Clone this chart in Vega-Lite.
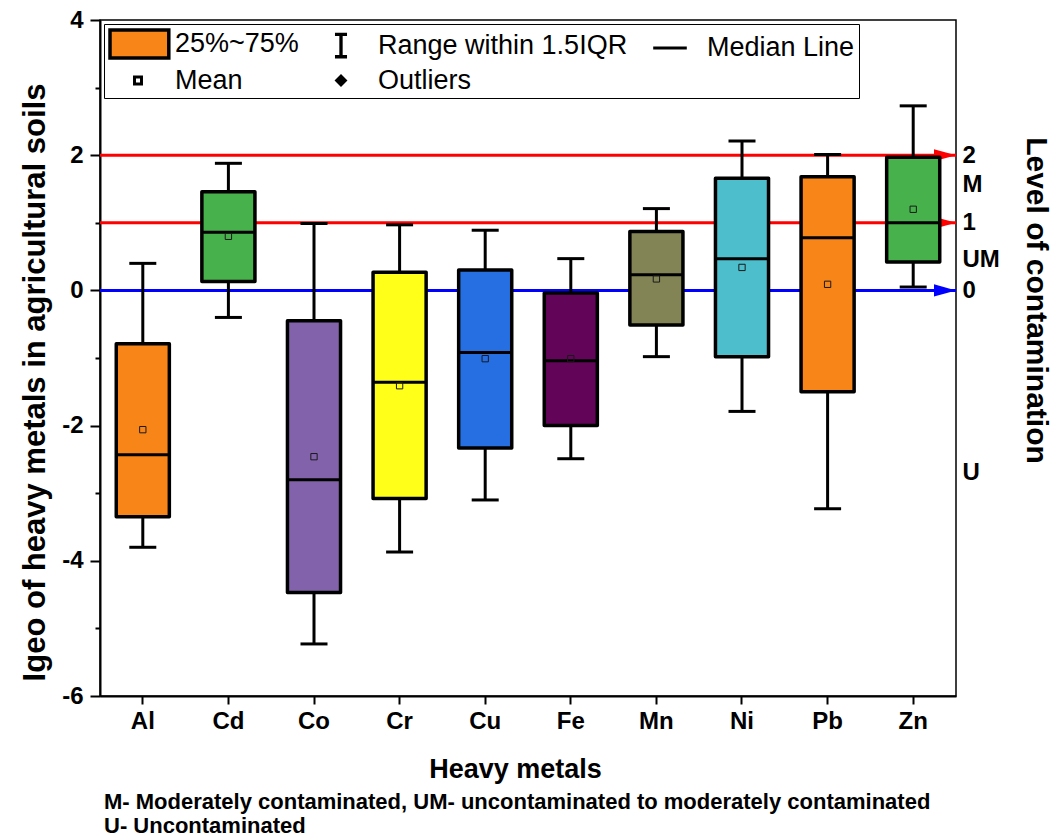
{
  "$schema": "https://vega.github.io/schema/vega-lite/v6.json",
  "width": 856,
  "height": 676,
  "autosize": {"type": "none"},
  "padding": {"left": 100, "top": 20, "right": 98, "bottom": 141},
  "background": "white",
  "datasets": {
    "boxes": [
      {"metal": "Al", "lower": -3.80, "q1": -3.35, "median": -2.43, "q3": -0.79, "upper": 0.40, "mean": -2.06},
      {"metal": "Cd", "lower": -0.40, "q1": 0.13, "median": 0.86, "q3": 1.46, "upper": 1.88, "mean": 0.80},
      {"metal": "Co", "lower": -5.23, "q1": -4.47, "median": -2.80, "q3": -0.45, "upper": 0.99, "mean": -2.46},
      {"metal": "Cr", "lower": -3.87, "q1": -3.08, "median": -1.36, "q3": 0.27, "upper": 0.97, "mean": -1.41},
      {"metal": "Cu", "lower": -3.10, "q1": -2.33, "median": -0.92, "q3": 0.30, "upper": 0.89, "mean": -1.01},
      {"metal": "Fe", "lower": -2.49, "q1": -2.00, "median": -1.04, "q3": -0.04, "upper": 0.47, "mean": -1.01},
      {"metal": "Mn", "lower": -0.98, "q1": -0.51, "median": 0.23, "q3": 0.87, "upper": 1.21, "mean": 0.17},
      {"metal": "Ni", "lower": -1.79, "q1": -0.98, "median": 0.47, "q3": 1.66, "upper": 2.21, "mean": 0.34},
      {"metal": "Pb", "lower": -3.23, "q1": -1.50, "median": 0.78, "q3": 1.68, "upper": 2.01, "mean": 0.09},
      {"metal": "Zn", "lower": 0.05, "q1": 0.42, "median": 1.00, "q3": 1.97, "upper": 2.73, "mean": 1.20}
    ],
    "levels": [
      {"level": 2, "kind": "threshold"},
      {"level": 1, "kind": "threshold"},
      {"level": 0, "kind": "baseline"}
    ],
    "legendItems": [
      {"item": "25%~75%"},
      {"item": "Range within 1.5IQR"},
      {"item": "Median Line"},
      {"item": "Mean"},
      {"item": "Outliers"}
    ]
  },
  "encoding": {
    "x": {
      "field": "metal",
      "type": "nominal",
      "sort": ["Al", "Cd", "Co", "Cr", "Cu", "Fe", "Mn", "Ni", "Pb", "Zn"],
      "scale": {"domain": ["Al", "Cd", "Co", "Cr", "Cu", "Fe", "Mn", "Ni", "Pb", "Zn"], "paddingInner": 0, "paddingOuter": 0},
      "axis": {
        "title": "Heavy metals",
        "bandPosition": 0.5,
        "labelAngle": 0,
        "labelFont": "Liberation Sans, Arial",
        "labelFontWeight": "bold",
        "labelFontSize": 24,
        "labelColor": "black",
        "labelPadding": 5,
        "tickColor": "black",
        "tickWidth": 2,
        "tickSize": 8,
        "domainColor": "black",
        "domainWidth": 2,
        "titleFont": "Liberation Sans, Arial",
        "titleFontWeight": "bold",
        "titleFontSize": 27,
        "titleColor": "black",
        "titlePadding": 23,
        "titleX": 415
      }
    }
  },
  "layer": [
    {
      "data": {"name": "levels"},
      "mark": {"type": "rule", "strokeWidth": 3},
      "encoding": {
        "x": null,
        "y": {
          "field": "level",
          "type": "quantitative",
          "scale": {"domain": [-6, 4], "nice": false, "zero": false},
          "axis": {
            "orient": "right",
            "title": "Level of contamination",
            "values": [2, 1.56, 1, 0.45, 0, -2.69],
            "labelExpr": "datum.value == 2 ? '2' : datum.value == 1.56 ? 'M' : datum.value == 1 ? '1' : datum.value == 0.45 ? 'UM' : datum.value == 0 ? '0' : 'U'",
            "labelOverlap": false,
            "ticks": false,
            "domain": false,
            "grid": false,
            "labelAlign": "left",
            "labelBaseline": "middle",
            "labelPadding": 6,
            "labelFont": "Liberation Sans, Arial",
            "labelFontWeight": "bold",
            "labelFontSize": 24,
            "labelColor": "black",
            "titleFont": "Liberation Sans, Arial",
            "titleFontWeight": "bold",
            "titleFontSize": 30,
            "titleColor": "black",
            "titlePadding": 21,
            "titleY": 280
          }
        },
        "color": {
          "field": "kind",
          "type": "nominal",
          "scale": {"domain": ["threshold", "baseline"], "range": ["#FF0000", "#0000FF"]},
          "legend": null
        }
      }
    },
    {
      "data": {"name": "levels"},
      "mark": {"type": "point", "filled": true, "size": 484, "shape": "M-2,-0.55L0,0L-2,0.55Z", "opacity": 1},
      "encoding": {
        "x": {"value": "width"},
        "y": {"field": "level", "type": "quantitative", "axis": null},
        "color": {
          "field": "kind",
          "type": "nominal",
          "scale": {"domain": ["threshold", "baseline"], "range": ["#FF0000", "#0000FF"]},
          "legend": null
        }
      }
    },
    {
      "data": {"name": "boxes"},
      "mark": {"type": "rule", "strokeWidth": 3, "color": "black"},
      "encoding": {
        "y": {
          "field": "lower",
          "type": "quantitative",
          "axis": {
            "orient": "left",
            "title": "Igeo of heavy metals in agricultural soils",
            "values": [-6, -5, -4, -3, -2, -1, 0, 1, 2, 3, 4],
            "labelExpr": "datum.value % 2 == 0 ? '' + datum.value : ''",
            "grid": false,
            "tickColor": "black",
            "tickWidth": 2,
            "tickSize": {"condition": {"test": "datum.value % 2 == 0", "value": 10}, "value": 5},
            "domainColor": "black",
            "domainWidth": 2,
            "labelFont": "Liberation Sans, Arial",
            "labelFontWeight": "bold",
            "labelFontSize": 24,
            "labelColor": "black",
            "labelPadding": 7,
            "labelOverlap": false,
            "titleFont": "Liberation Sans, Arial",
            "titleFontWeight": "bold",
            "titleFontSize": 31,
            "titleColor": "black",
            "titlePadding": 10,
            "titleY": 362
          }
        },
        "y2": {"field": "upper"}
      }
    },
    {
      "data": {"name": "boxes"},
      "mark": {"type": "tick", "size": 27, "thickness": 3, "color": "black", "opacity": 1},
      "encoding": {"y": {"field": "upper", "type": "quantitative", "axis": null}}
    },
    {
      "data": {"name": "boxes"},
      "mark": {"type": "tick", "size": 27, "thickness": 3, "color": "black", "opacity": 1},
      "encoding": {"y": {"field": "lower", "type": "quantitative", "axis": null}}
    },
    {
      "data": {"name": "boxes"},
      "mark": {"type": "bar", "width": {"band": 0.62}, "stroke": "black", "strokeWidth": 3.5, "strokeJoin": "round"},
      "encoding": {
        "y": {"field": "q1", "type": "quantitative", "axis": null},
        "y2": {"field": "q3"},
        "color": {
          "field": "metal",
          "type": "nominal",
          "scale": {
            "domain": ["Al", "Cd", "Co", "Cr", "Cu", "Fe", "Mn", "Ni", "Pb", "Zn"],
            "range": ["#F88517", "#47B14B", "#8263AB", "#FFFF1A", "#256FE3", "#620457", "#828455", "#4DBECC", "#F88517", "#47B14B"]
          },
          "legend": null
        }
      }
    },
    {
      "data": {"name": "boxes"},
      "mark": {"type": "tick", "size": 53, "thickness": 3, "color": "black", "opacity": 1},
      "encoding": {"y": {"field": "median", "type": "quantitative", "axis": null}}
    },
    {
      "data": {"name": "boxes"},
      "mark": {"type": "point", "shape": "square", "size": 40, "filled": false, "stroke": "#1a1a1a", "strokeWidth": 1, "opacity": 1},
      "encoding": {"y": {"field": "mean", "type": "quantitative", "axis": null}}
    },
    {
      "data": {"name": "legendItems"},
      "transform": [{"filter": "false"}],
      "mark": {"type": "point", "filled": true, "stroke": "black", "opacity": 1},
      "encoding": {
        "x": null,
        "shape": {
          "field": "item",
          "type": "nominal",
          "scale": {
            "domain": ["25%~75%", "Range within 1.5IQR", "Median Line", "Mean", "Outliers"],
            "range": [
              "M-1,-1H3.2V1H-1Z",
              "M0.57,-0.8H1.43M1,-0.8V0.8M0.57,0.8H1.43",
              "M-0.2,0H2.2",
              "M0.75,-0.25H1.25V0.25H0.75Z",
              "M1,-0.32L1.32,0L1,0.32L0.68,0Z"
            ]
          },
          "legend": {
            "title": null,
            "orient": "top-left",
            "offset": 4,
            "direction": "horizontal",
            "columns": 3,
            "columnPadding": 12,
            "rowPadding": 0,
            "padding": 4,
            "strokeColor": "black",
            "fillColor": "white",
            "labelFont": "Liberation Sans, Arial",
            "labelFontSize": 27,
            "labelColor": "black",
            "labelLimit": 400,
            "labelOffset": 35,
            "symbolSize": 784,
            "encode": {
              "symbols": {
                "update": {
                  "stroke": {"value": "black"}
                }
              }
            }
          }
        },
        "fill": {
          "field": "item",
          "type": "nominal",
          "scale": {
            "domain": ["25%~75%", "Range within 1.5IQR", "Median Line", "Mean", "Outliers"],
            "range": ["#F88517", "transparent", "transparent", "white", "black"]
          },
          "legend": {"title": null}
        },
        "strokeWidth": {
          "field": "item",
          "type": "nominal",
          "scale": {
            "domain": ["25%~75%", "Range within 1.5IQR", "Median Line", "Mean", "Outliers"],
            "range": [3.5, 2.8, 2.5, 1, 1]
          },
          "legend": {"title": null}
        }
      }
    }
  ],
  "resolve": {"axis": {"y": "independent"}, "scale": {"color": "independent"}},
  "title": {
    "text": ["M- Moderately contaminated, UM- uncontaminated to moderately contaminated", "U- Uncontaminated"],
    "orient": "bottom",
    "anchor": "start",
    "frame": "group",
    "offset": 10,
    "font": "Liberation Sans, Arial",
    "fontWeight": "bold",
    "fontSize": 22,
    "lineHeight": 24,
    "color": "black",
    "dx": 4
  },
  "config": {
    "view": {"stroke": "black", "strokeWidth": 1.5}
  }
}
